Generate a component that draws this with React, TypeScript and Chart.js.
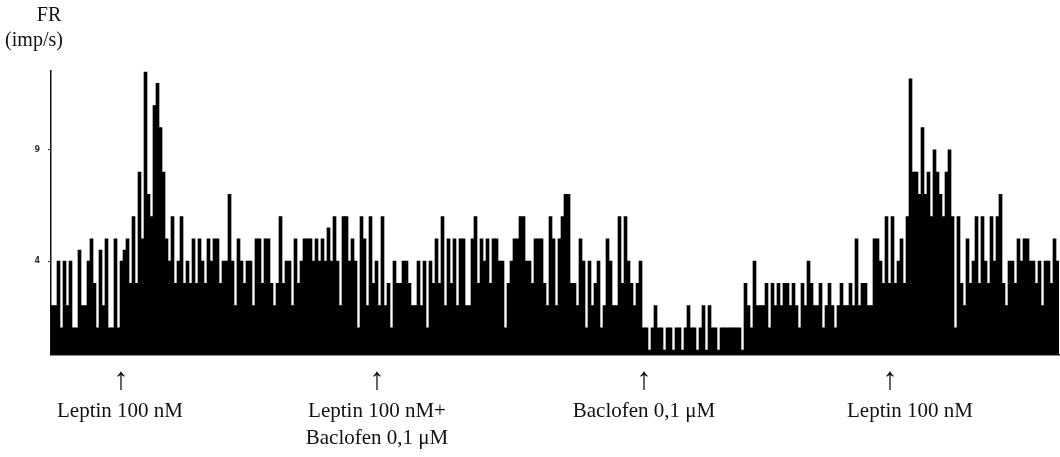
import React, { useEffect, useRef } from "react";
import { Chart, registerables } from "chart.js";

Chart.register(...registerables);

// Firing rate (imp/s) per time bin
const seg1 = [2, 2, 4, 1, 4, 2, 4, 1, 1, 4.5, 2, 2, 4, 5, 3, 1, 4.5, 2, 5, 1, 1, 5, 1, 4, 4.5, 5, 3, 6, 3, 8, 5, 12.5, 7, 6, 11, 12, 10, 8, 5, 4, 6, 3, 4, 6, 3, 4, 3, 5, 3, 5, 4, 3, 5, 4, 5];
const seg2 = [5, 3, 4, 4, 7, 4, 2, 5, 4, 3, 4, 4, 2, 5, 5, 3, 5, 5, 3, 2, 3, 6, 3, 4, 4, 2, 5, 3, 4, 5, 5, 5, 4, 5, 4, 5, 4, 5.5, 4, 6, 4, 2, 6, 6, 4, 5, 4, 1, 6, 5, 2, 6, 3, 4, 2, 6, 2];
const seg3 = [3, 1, 4, 3, 3, 4, 4, 3, 2, 2, 4, 2, 4, 1, 4, 3, 5, 3, 6, 2, 5, 3, 5, 2, 5, 5, 2, 2, 5, 6, 3, 5, 4, 5, 3, 5, 5, 4, 4, 1, 3, 4, 5, 5, 6, 6, 4, 4, 3, 5, 5, 5, 3, 2, 6, 5, 2];
const seg4 = [5, 6, 7, 7, 3, 3, 2, 5, 4, 1, 4, 2, 3, 4, 1, 2, 5, 4, 2, 2, 6, 3, 6, 4, 3, 2, 3, 4, 1, 1, 0, 1, 2, 1, 1, 0, 1, 1, 0, 1, 1, 0, 1, 2, 1, 1, 0, 1, 2, 0, 2, 1, 1, 0, 1, 1, 1];
const seg5 = [1, 1, 1, 1, 0, 3, 2, 1, 4, 2, 2, 2, 3, 1, 3, 2, 3, 2, 3, 3, 2, 3, 2, 1, 3, 2, 4, 3, 2, 2, 3, 1, 2, 3, 2, 1, 2, 3, 2, 2, 3, 2, 5, 2, 3, 3, 2, 2, 5, 5, 4, 3, 6, 3, 6, 3, 4];
const seg6 = [5, 3, 6, 12.2, 8, 8, 7, 10, 7, 8, 6, 9, 8, 7, 6, 8, 9, 6, 1, 6, 3, 2, 5, 3, 4, 6, 3, 6, 4, 3, 6, 4, 6, 7, 3, 2, 4, 4, 3, 5, 4, 5, 5, 4, 4, 3, 4, 2, 4, 4, 3, 5, 4];

const firingRate = [...seg1, ...seg2, ...seg3, ...seg4, ...seg5, ...seg6];
const binLabels = firingRate.map((_, i) => String(i + 1));

const yTickValues = [4, 9];
const yMin = -0.2;
const yMax = 12.55;

const markerTexts = [
  ["Leptin 100 nM"],
  ["Leptin 100 nM+", "Baclofen 0,1 μM"],
  ["Baclofen 0,1 μM"],
  ["Leptin 100 nM"],
];
const markerArrowX = [121, 377, 644, 890];
const markerTextX = [120, 377, 644, 910];

const serif = "'Liberation Serif', 'Times New Roman', serif";

export default function App() {
  const canvasRef = useRef<HTMLCanvasElement | null>(null);

  useEffect(() => {
    const canvas = canvasRef.current;
    if (!canvas) return;
    const chart = new Chart(canvas, {
      type: "bar",
      data: {
        labels: binLabels,
        datasets: [
          {
            data: firingRate,
            backgroundColor: "#000000",
            borderWidth: 0,
            barPercentage: 1,
            categoryPercentage: 1,
            base: yMin,
          } as any,
        ],
      },
      options: {
        animation: false,
        responsive: false,
        maintainAspectRatio: false,
        layout: { padding: { top: 71, right: 1, left: 0, bottom: 0 } },
        plugins: { legend: { display: false }, tooltip: { enabled: false } },
        scales: {
          x: {
            grid: { display: false },
            ticks: { display: false },
            border: { color: "#111111", width: 1.5 },
            afterFit: (s: any) => {
              s.height = 102.5;
            },
          },
          y: {
            min: yMin,
            max: yMax,
            afterFit: (s: any) => {
              s.width = 51;
            },
            afterBuildTicks: (s: any) => {
              s.ticks = yTickValues.map((v) => ({ value: v }));
            },
            grid: { display: true, drawOnChartArea: false, tickLength: 3, color: "#333333" },
            border: { color: "#111111", width: 1.5 },
            ticks: {
              font: { family: "'DejaVu Sans', sans-serif", size: 8, weight: "bold" },
              color: "#333333",
              padding: 8,
            },
          },
        },
      } as any,
    });
    return () => chart.destroy();
  }, []);

  return (
    <div style={{ position: "absolute", left: 0, top: 0, width: 1060, height: 457, background: "#ffffff" }}>
      <canvas ref={canvasRef} width={1060} height={457} style={{ display: "block", width: 1060, height: 457 }} />
      <div style={{ position: "absolute", left: 49, top: 3, transform: "translateX(-50%)", fontFamily: serif, fontSize: 20, color: "#111", whiteSpace: "nowrap" }}>FR</div>
      <div style={{ position: "absolute", left: 34, top: 28, transform: "translateX(-50%)", fontFamily: serif, fontSize: 20, color: "#111", whiteSpace: "nowrap" }}>(imp/s)</div>
      {markerArrowX.map((x, i) => (
        <div key={"a" + i} style={{ position: "absolute", left: x, top: 362, transform: "translateX(-50%)", fontFamily: serif, fontSize: 31, color: "#111", lineHeight: "34px" }}>↑</div>
      ))}
      {markerTexts.map((lines, i) => (
        <div key={"t" + i} style={{ position: "absolute", left: markerTextX[i], top: 397, transform: "translateX(-50%)", fontFamily: serif, fontSize: 21, color: "#111", lineHeight: "27px", textAlign: "center", whiteSpace: "nowrap" }}>
          {lines.map((l, j) => (
            <div key={j}>{l}</div>
          ))}
        </div>
      ))}
    </div>
  );
}
